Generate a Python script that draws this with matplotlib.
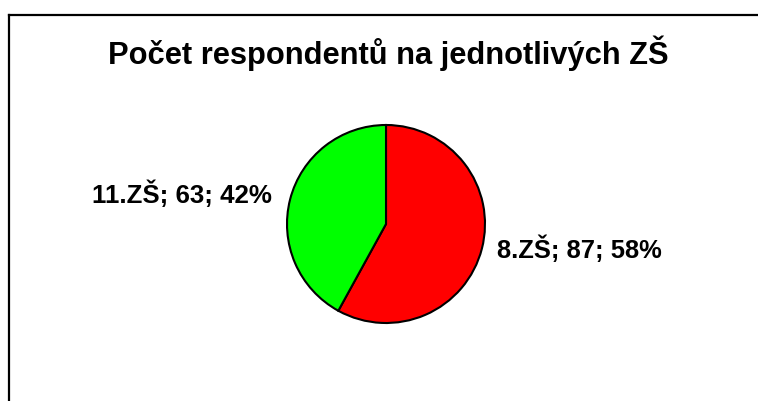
import matplotlib
matplotlib.use("Agg")
import matplotlib.pyplot as plt
from matplotlib.lines import Line2D

plt.rcParams["font.family"] = ["Liberation Sans", "DejaVu Sans"]

# data
schools = ["8.ZŠ", "11.ZŠ"]
counts = [87, 63]
colors = ["#ff0000", "#00ff00"]
title = "Počet respondentů na jednotlivých ZŠ"

W, H = 758, 401
fig = plt.figure(figsize=(W / 100, H / 100), dpi=100)

# frame (top and left edges visible)
fig.add_artist(Line2D([9 / W, 9 / W], [0, 1 - 15 / H], color="black", lw=1.6,
                      transform=fig.transFigure, solid_capstyle="projecting"))
fig.add_artist(Line2D([9 / W, 1], [1 - 15 / H, 1 - 15 / H], color="black", lw=1.6,
                      transform=fig.transFigure, solid_capstyle="projecting"))

fig.text(388 / W, 1 - 64 / H, title, ha="center", va="baseline",
         fontsize=22.2, fontweight="bold")

# pie: center (386, 224) px, radius 99 px
cx, cy, r = 386, 224, 99
ax = fig.add_axes([(cx - r) / W, (H - cy - r) / H, 2 * r / W, 2 * r / H])
ax.pie(counts, colors=colors, startangle=90, counterclock=False,
       wedgeprops=dict(edgecolor="black", linewidth=1.5))
ax.set_xlim(-1, 1)
ax.set_ylim(-1, 1)
ax.axis("off")

total = sum(counts)
labels = [f"{s}; {c}; {round(100 * c / total)}%" for s, c in zip(schools, counts)]
ax.text(1.12, -0.26, labels[0], ha="left", va="center", fontsize=18.4,
        fontweight="bold", clip_on=False)
ax.text(-1.15, 0.30, labels[1], ha="right", va="center", fontsize=18.6,
        fontweight="bold", clip_on=False)

fig.savefig("out.png", dpi=100)
